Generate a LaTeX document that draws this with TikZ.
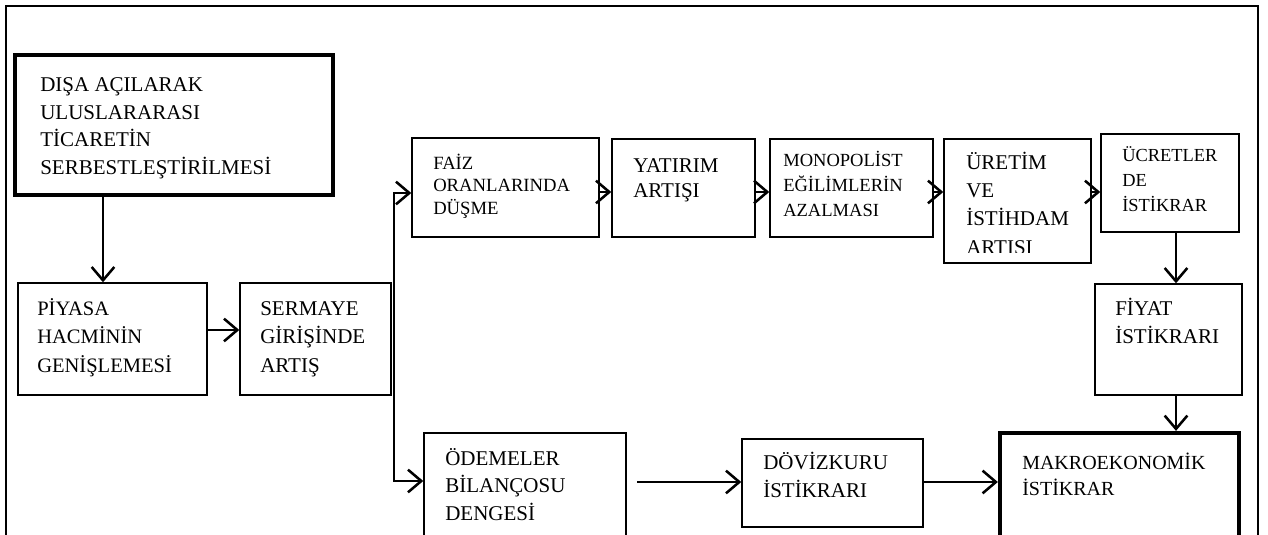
\documentclass[tikz,border=0pt]{standalone}
\usepackage{fontspec}
\setmainfont{Liberation Serif}
\usetikzlibrary{arrows.meta}
\newcommand\strutA{\rule{0pt}{1em}}
\tikzset{
  box/.style={draw, line width=1.1pt, inner sep=0pt},
  boldbox/.style={draw, line width=3.2pt, inner sep=0pt},
  txt/.style={anchor=north west, inner sep=0pt, align=left},
  arr/.style={line width=1.9pt, -{Straight Barb[length=10pt,width=17pt]}},
  barr/.style={line width=1.9pt, {Straight Barb[length=10pt,width=17pt]}-{Straight Barb[length=10pt,width=17pt]}},
  frame/.style={line width=2.1pt}
}
\begin{document}
\begin{tikzpicture}[x=0.75pt,y=-0.75pt]
\useasboundingbox (0,0) rectangle (1268,535);
% outer frame
\draw[frame] (6,545) -- (6,6) -- (1258,6) -- (1258,545);

% boxes
\node[boldbox, minimum width=238.5pt, minimum height=105pt] (disa) at (174,125) {};
\node[box, minimum width=141.75pt, minimum height=84pt] (piyasa) at (112.5,339) {};
\node[box, minimum width=113.25pt, minimum height=84pt] (sermaye) at (315.5,339) {};
\node[box, minimum width=140.25pt, minimum height=74.25pt] (faiz) at (505.5,187.5) {};
\node[box, minimum width=107.25pt, minimum height=73.5pt] (yatirim) at (683.5,188) {};
\node[box, minimum width=122.25pt, minimum height=73.5pt] (mono) at (851.5,188) {};
\node[box, minimum width=110.25pt, minimum height=93pt] (uretim) at (1017.5,201) {};
\node[box, minimum width=103.5pt, minimum height=73.5pt] (ucret) at (1170,183) {};
\node[box, minimum width=110.25pt, minimum height=83.25pt] (fiyat) at (1168.5,339.5) {};
\node[box, minimum width=151.5pt, minimum height=84pt] (odeme) at (525,489) {};
\node[box, minimum width=135.75pt, minimum height=66pt] (doviz) at (832.5,483) {};
\node[boldbox, minimum width=179.25pt, minimum height=87.75pt] (makro) at (1119.5,491.5) {};

% texts
\node[txt, font=\fontsize{15.75pt}{20.8pt}\selectfont] (disaT) at (40,70)
  {\strutA DIŞA AÇILARAK\\ULUSLARARASI\\TİCARETİN\\SERBESTLEŞTİRİLMESİ};
\node[txt, font=\fontsize{15.4pt}{21.4pt}\selectfont] (piyasaT) at (37,294.5)
  {\strutA PİYASA\\HACMİNİN\\GENİŞLEMESİ};
\node[txt, font=\fontsize{15.75pt}{21.4pt}\selectfont] (sermayeT) at (260,294)
  {\strutA SERMAYE\\GİRİŞİNDE\\ARTIŞ};
\node[txt, font=\fontsize{14pt}{16.9pt}\selectfont] (faizT) at (433,150.3)
  {\strutA FAİZ\\ORANLARINDA\\DÜŞME};
\node[txt, font=\fontsize{15.75pt}{18.75pt}\selectfont] (yatirimT) at (633,151)
  {\strutA YATIRIM\\ARTIŞI};
\node[txt, font=\fontsize{13.9pt}{18.75pt}\selectfont] (monoT) at (783,147.5)
  {\strutA MONOPOLİST\\EĞİLİMLERİN\\AZALMASI};
\begin{scope}
\clip (944,139) rectangle (1091,252);
\node[txt, font=\fontsize{15.75pt}{21.2pt}\selectfont] (uretimT) at (966,148)
  {\strutA ÜRETİM\\VE\\İSTİHDAM\\ARTIŞI};
\end{scope}
\node[txt, font=\fontsize{13.8pt}{18.75pt}\selectfont] (ucretT) at (1122,142.6)
  {\strutA ÜCRETLER\\DE\\İSTİKRAR};
\node[txt, font=\fontsize{15.75pt}{21.4pt}\selectfont] (fiyatT) at (1115,294)
  {\strutA FİYAT\\İSTİKRARI};
\node[txt, font=\fontsize{15.75pt}{20.6pt}\selectfont] (odemeT) at (445,444)
  {\strutA ÖDEMELER\\BİLANÇOSU\\DENGESİ};
\node[txt, font=\fontsize{15.75pt}{21pt}\selectfont] (dovizT) at (763,448)
  {\strutA DÖVİZKURU\\İSTİKRARI};
\node[txt, font=\fontsize{15pt}{19.5pt}\selectfont] (makroT) at (1022,449)
  {\strutA MAKROEKONOMİK\\İSTİKRAR};

% connector helper coordinates
\coordinate (c1) at (103,0);
\coordinate (c2) at (0,330);
\coordinate (c3) at (0,192);
\coordinate (c4) at (1176,0);
\coordinate (c5) at (0,482);
\coordinate (t1) at (394,193);
\coordinate (t2) at (394,481);
\coordinate (o1) at (637,482);

% connectors
\draw[arr] (disa.south -| c1) -- (piyasa.north -| c1);
\draw[arr] (piyasa.east |- c2) -- (sermaye.west |- c2);
\draw[barr] (odeme.west |- t2) -| (t1) -- (faiz.west |- t1);
\draw[arr] (faiz.east |- c3) -- (yatirim.west |- c3);
\draw[arr] (yatirim.east |- c3) -- (mono.west |- c3);
\draw[arr] (mono.east |- c3) -- (uretim.west |- c3);
\draw[arr] (uretim.east |- c3) -- (ucret.west |- c3);
\draw[arr] (ucret.south -| c4) -- (fiyat.north -| c4);
\draw[arr] (fiyat.south -| c4) -- (makro.north -| c4);
\draw[arr] (o1) -- (doviz.west |- o1);
\draw[arr] (doviz.east |- c5) -- (makro.west |- c5);
\end{tikzpicture}
\end{document}
